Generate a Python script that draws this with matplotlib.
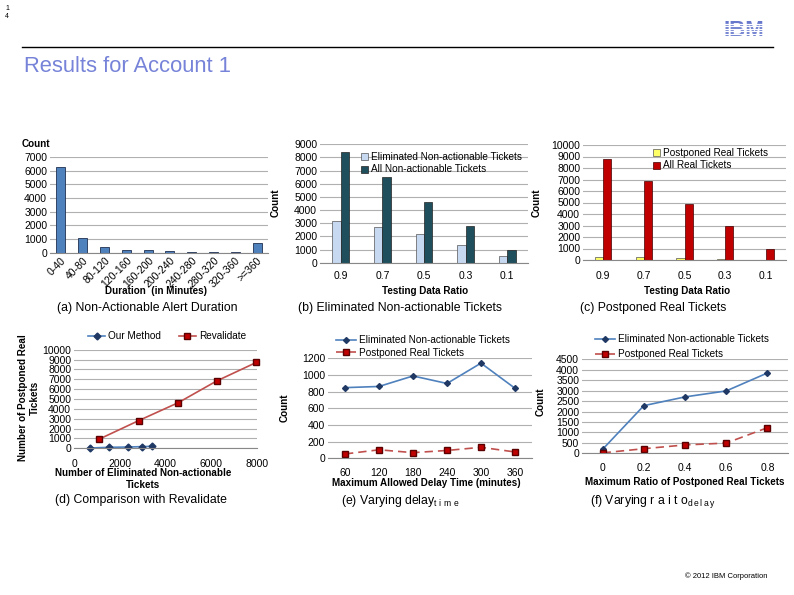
import matplotlib
matplotlib.use('Agg')
import matplotlib.pyplot as plt
import numpy as np

plt.rcParams['font.family'] = ['Liberation Sans', 'DejaVu Sans']
plt.rcParams['mathtext.fontset'] = 'custom'
plt.rcParams['mathtext.rm'] = 'Liberation Sans'

W, H = 794, 595

# (a) duration histogram
dur_bins = ['0-40', '40-80', '80-120', '120-160', '160-200', '200-240',
            '240-280', '280-320', '320-360', '>=360']
dur_counts = [6250, 1080, 400, 200, 220, 100, 80, 75, 55, 690]

# (b) / (c) testing data ratio
ratios = ['0.9', '0.7', '0.5', '0.3', '0.1']
elim_nonact = [3150, 2720, 2150, 1320, 480]
all_nonact = [8420, 6500, 4650, 2800, 960]
postponed_real = [220, 220, 170, 120, 30]
all_real = [8750, 6850, 4850, 2950, 1000]

# (d) comparison with revalidate
ours_x = [700, 1550, 2380, 2970, 3390]
ours_y = [30, 100, 130, 170, 200]
reval_x = [1110, 2820, 4560, 6230, 7970]
reval_y = [940, 2800, 4630, 6820, 8710]

# (e) varying delay time
delay_times = ['60', '120', '180', '240', '300', '360']
e_elim = [848, 862, 988, 898, 1142, 840]
e_post = [52, 102, 68, 94, 132, 76]

# (f) varying ratio
max_ratios = ['0', '0.2', '0.4', '0.6', '0.8']
f_elim = [190, 2280, 2700, 2985, 3845]
f_post = [20, 220, 400, 490, 1225]

BLUE = '#4f81bd'
LIGHT = '#c6d9f1'
TEAL = '#1f4e5c'
YEL = '#ffff66'
RED = '#c00000'
GRID = '#b0b0b0'
TS = 7.5   # tick labels
BS = 7.1   # bold axis labels
LS = 7.2   # legends
CS = 8.8   # captions


def px(x, y):
    return x / W, 1 - y / H


def add_ax(l, t, r, b):
    ax = fig.add_axes([l / W, 1 - b / H, (r - l) / W, (b - t) / H])
    for s in ['top', 'right', 'left']:
        ax.spines[s].set_visible(False)
    ax.spines['bottom'].set_color('#888888')
    ax.spines['bottom'].set_linewidth(0.8)
    ax.yaxis.grid(True, color=GRID, lw=0.8)
    ax.set_axisbelow(True)
    ax.tick_params(labelsize=TS, length=0, pad=2)
    return ax


def label(x, y, s, size=BS, bold=True, rot=0, ha='center'):
    fig.text(*px(x, y), s, fontsize=size, fontweight='bold' if bold else 'normal',
             rotation=rot, ha=ha, va='center')


fig = plt.figure(figsize=(W / 100, H / 100), dpi=100)

# header
fig.text(*px(5, 8), '1', fontsize=5, va='center')
fig.text(*px(5, 16), '4', fontsize=5, va='center')
fig.add_artist(plt.Line2D([22 / W, 773 / W], [1 - 47 / H] * 2, color='black', lw=1.0))
fig.text(*px(24, 66), 'Results for Account 1', fontsize=15.8, color='#7683d8', va='center')
fig.text(*px(744, 31), 'IBM', fontsize=16, fontweight='bold', color='#6677cc',
         ha='center', va='center')
for yy in np.arange(23.5, 40, 2.6):
    fig.add_artist(plt.Line2D([712 / W, 776 / W], [1 - yy / H] * 2, color='white',
                              lw=0.9, zorder=10))
fig.text(*px(726, 576), '\u00a9 2012 IBM Corporation', fontsize=5.5, ha='center', va='center')

# (a)
ax = add_ax(50, 157, 268, 252.7)
xa = np.arange(len(dur_bins))
ax.bar(xa, dur_counts, width=0.42, color=BLUE, edgecolor='#1f3050', lw=0.6)
ax.set_xlim(-0.5, len(dur_bins) - 0.5)
ax.set_ylim(0, 7000)
ax.set_yticks(range(0, 7001, 1000))
ax.set_xticks(xa)
ax.set_xticklabels(dur_bins, rotation=45, ha='right', rotation_mode='anchor')
label(22, 144, 'Count', ha='left')
label(156, 291, 'Duration  (in Minutes)')
label(147, 308, '(a) Non-Actionable Alert Duration', size=CS, bold=False)

# (b)
ax = add_ax(320, 144.3, 528, 262.7)
xb = np.arange(len(ratios))
ax.bar(xb - 0.1, elim_nonact, width=0.2, color=LIGHT, edgecolor='#555555', lw=0.5,
       label='Eliminated Non-actionable Tickets')
ax.bar(xb + 0.1, all_nonact, width=0.2, color=TEAL, edgecolor='#222222', lw=0.5,
       label='All Non-actionable Tickets')
ax.set_xlim(-0.5, len(ratios) - 0.5)
ax.set_ylim(0, 9000)
ax.set_yticks(range(0, 9001, 1000))
ax.set_xticks(xb)
ax.set_xticklabels(ratios)
ax.tick_params(axis='x', pad=6)
ax.legend(loc='upper left', bbox_to_anchor=px(356, 147), bbox_transform=fig.transFigure,
          frameon=False, fontsize=LS, handlelength=0.7, handleheight=0.7,
          handletextpad=0.3, labelspacing=0.25, borderpad=0)
label(276, 203, 'Count', rot=90)
label(425, 291, 'Testing Data Ratio')
label(400, 308, '(b) Eliminated Non-actionable Tickets', size=CS, bold=False)

# (c)
ax = add_ax(583, 145, 786, 260)
ax.bar(xb - 0.1, postponed_real, width=0.2, color=YEL, edgecolor='#555555', lw=0.5,
       label='Postponed Real Tickets')
ax.bar(xb + 0.1, all_real, width=0.2, color=RED, edgecolor='#400000', lw=0.5,
       label='All Real Tickets')
ax.set_xlim(-0.5, len(ratios) - 0.5)
ax.set_ylim(0, 10000)
ax.set_yticks(range(0, 10001, 1000))
ax.set_xticks(xb)
ax.set_xticklabels(ratios)
ax.tick_params(axis='x', pad=8)
ax.legend(loc='upper left', bbox_to_anchor=px(648, 143), bbox_transform=fig.transFigure,
          frameon=False, fontsize=LS, handlelength=0.7, handleheight=0.7,
          handletextpad=0.3, labelspacing=0.25, borderpad=0)
label(537, 203, 'Count', rot=90)
label(687, 291, 'Testing Data Ratio')
label(653, 308, '(c) Postponed Real Tickets', size=CS, bold=False)

# (d)
ax = add_ax(74, 349.7, 257, 448.3)
ax.plot(ours_x, ours_y, color=BLUE, lw=1.2, marker='D', ms=3.5, mfc='#1f3864',
        mec='#1f3864', label='Our Method', clip_on=False)
ax.plot(reval_x, reval_y, color='#c0504d', lw=1.2, marker='s', ms=5, mfc=RED,
        mec='#5a0000', label='Revalidate', clip_on=False)
ax.set_xlim(0, 8000)
ax.set_ylim(0, 10000)
ax.set_yticks(range(0, 10001, 1000))
ax.set_xticks(range(0, 8001, 2000))
ax.tick_params(axis='x', pad=8)
ax.legend(loc='center left', bbox_to_anchor=px(83, 336), bbox_transform=fig.transFigure,
          ncol=2, frameon=False, fontsize=LS, handlelength=1.7,
          handletextpad=0.3, columnspacing=1.8, borderpad=0)
label(29, 398, 'Number of Postponed Real\nTickets', rot=90)
label(143, 479, 'Number of Eliminated Non-actionable\nTickets')
label(141, 500, '(d) Comparison with Revalidate', size=CS, bold=False)

# (e)
ax = add_ax(328, 358.3, 532, 458.3)
xe = np.arange(len(delay_times))
ax.plot(xe, e_elim, color=BLUE, lw=1.2, marker='D', ms=3, mfc='#1f3864', mec='#1f3864',
        label='Eliminated Non-actionable Tickets')
ax.plot(xe, e_post, color='#c0504d', lw=1.2, ls=(0, (5, 3)), marker='s', ms=5, mfc=RED,
        mec='#5a0000', label='Postponed Real Tickets')
ax.set_xlim(-0.5, len(delay_times) - 0.5)
ax.set_ylim(0, 1200)
ax.set_yticks(range(0, 1201, 200))
ax.set_xticks(xe)
ax.set_xticklabels(delay_times)
ax.tick_params(axis='x', pad=7)
ax.legend(loc='upper left', bbox_to_anchor=px(331, 330), bbox_transform=fig.transFigure,
          frameon=False, fontsize=LS, handlelength=2.0, handletextpad=0.3,
          labelspacing=0.25, borderpad=0)
label(285, 408, 'Count', rot=90)
label(426, 483, 'Maximum Allowed Delay Time (minutes)')
label(400, 501, r'(e) Varying delay$_{\mathrm{t\ i\ m\ e}}$', size=CS, bold=False)

# (f)
ax = add_ax(582, 359.3, 788, 453.3)
xf = np.arange(len(max_ratios))
ax.plot(xf, f_elim, color=BLUE, lw=1.2, marker='D', ms=3, mfc='#1f3864', mec='#1f3864',
        label='Eliminated Non-actionable Tickets')
ax.plot(xf, f_post, color='#c0504d', lw=1.2, ls=(0, (5, 3)), marker='s', ms=5, mfc=RED,
        mec='#5a0000', label='Postponed Real Tickets')
ax.set_xlim(-0.5, len(max_ratios) - 0.5)
ax.set_ylim(0, 4500)
ax.set_yticks(range(0, 4501, 500))
ax.set_xticks(xf)
ax.set_xticklabels(max_ratios)
ax.tick_params(axis='x', pad=7)
ax.legend(loc='upper left', bbox_to_anchor=px(590, 329), bbox_transform=fig.transFigure,
          frameon=False, fontsize=LS, handlelength=2.0, handletextpad=0.3,
          labelspacing=0.5, borderpad=0)
label(541, 402, 'Count', rot=90)
label(685, 482, 'Maximum Ratio of Postponed Real Tickets')
label(653, 502, r'(f) Varying r a i t o$_{\mathrm{d\,e\,l\,a\,y}}$', size=CS, bold=False)

fig.savefig('out.png', dpi=100)
